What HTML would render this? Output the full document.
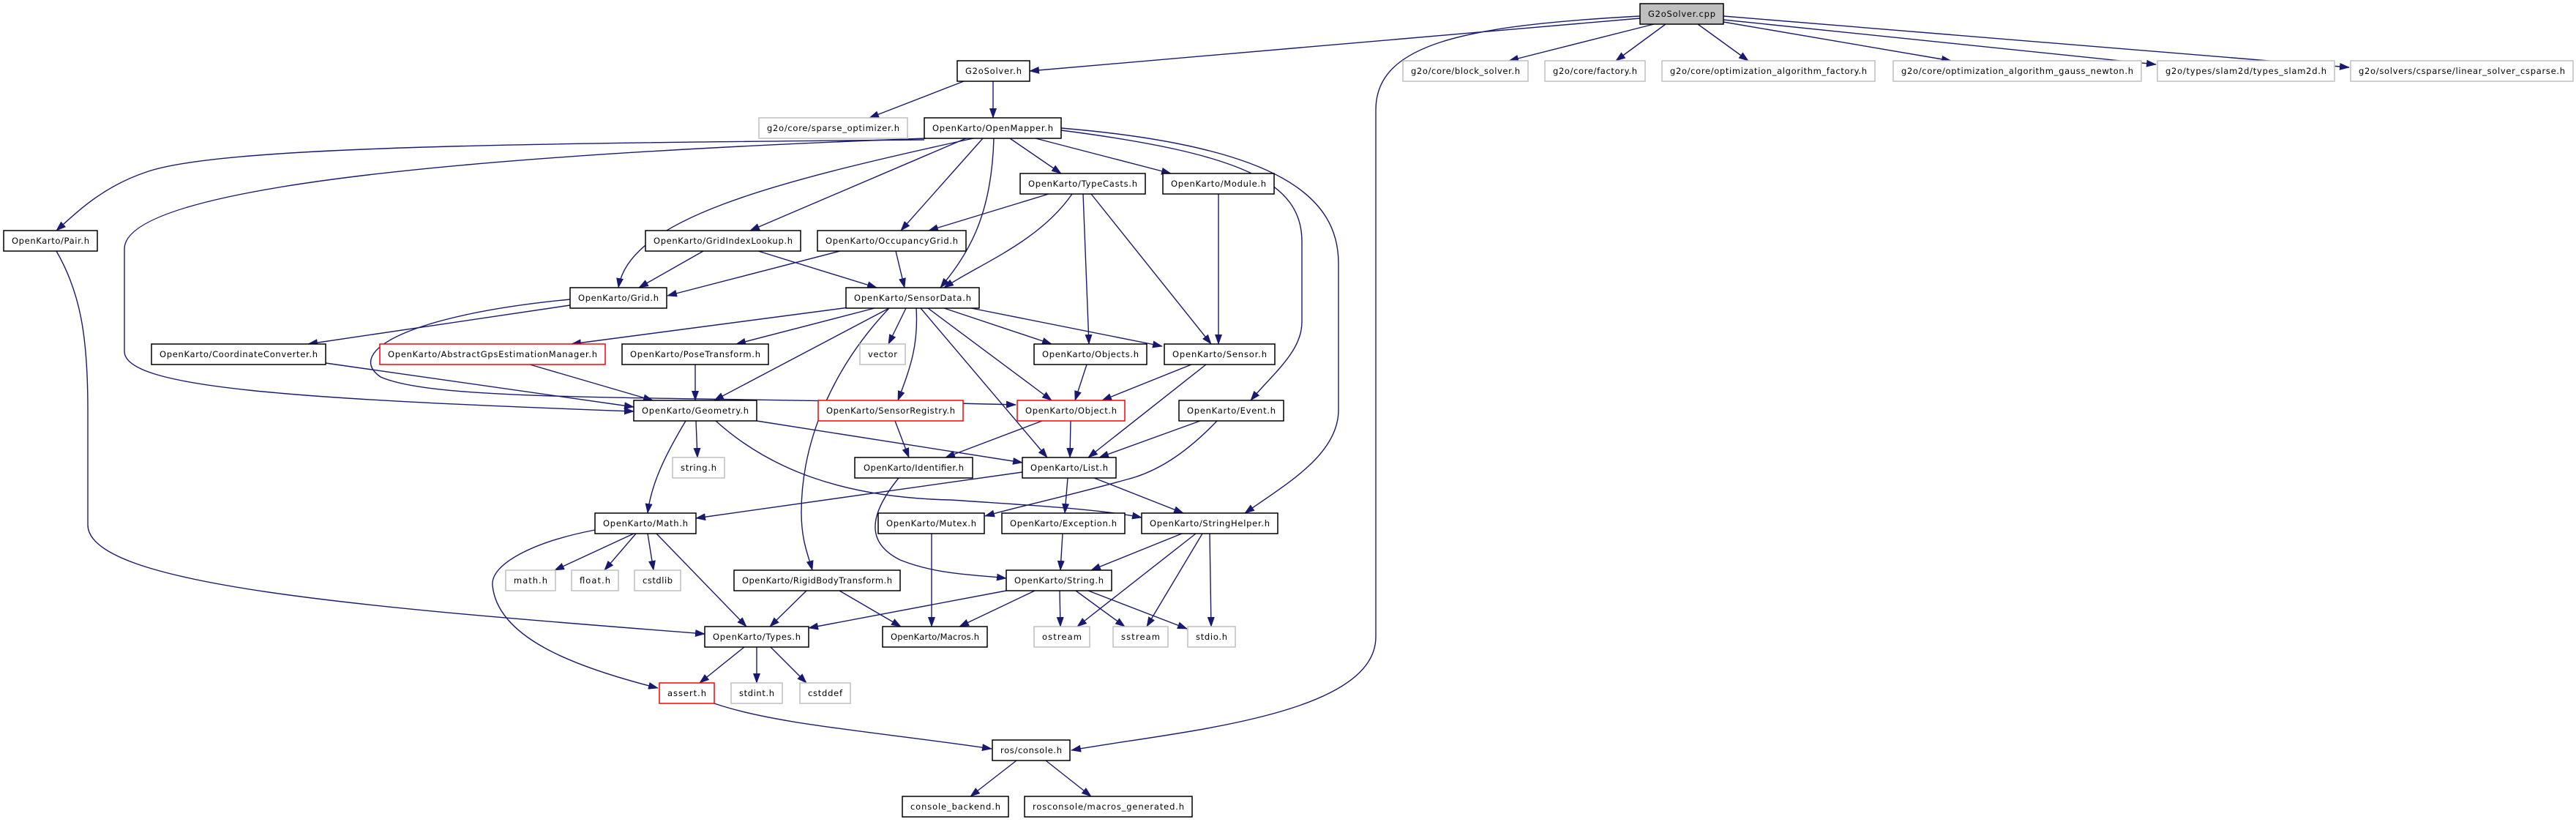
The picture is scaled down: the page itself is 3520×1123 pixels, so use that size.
<!DOCTYPE html>
<html><head><meta charset="utf-8"><style>html,body{margin:0;padding:0;background:#fff}svg{display:block}</style></head>
<body>
<svg xmlns="http://www.w3.org/2000/svg" width="3520" height="1123" viewBox="0 0 3520 1123">
<defs>
<marker id="a" markerUnits="userSpaceOnUse" markerWidth="14" markerHeight="10" refX="13" refY="5" orient="auto"><path d="M0,0 L14,5 L0,10 z" fill="#191970"/></marker>
</defs>
<rect width="3520" height="1123" fill="#fff"/>
<g fill="none" stroke="#191970" stroke-width="1.4" marker-end="url(#a)">
<path d="M2241,25 L1407,97"/>
<path d="M2260,33 L2062,83"/>
<path d="M2276,33 L2208,83"/>
<path d="M2320,33 L2389,83"/>
<path d="M2355,30 L2666,83"/>
<path d="M2355,27 L2946,88"/>
<path d="M2355,22 L3210,92"/>
<path d="M2241,22 C2000,35 1880,60 1880,150 L1880,870 C1880,980 1600,1000 1464,1025"/>
<path d="M1317,111 L1188,161"/>
<path d="M1357,111 L1357,161"/>
<path d="M1263,191 C700,196 300,200 200,235 C140,255 105,290 77,315"/>
<path d="M1265,189 C700,210 170,250 170,340 L170,480 C170,530 400,545 866,562"/>
<path d="M1320,189 L1025,315"/>
<path d="M1330,189 C1050,250 860,300 845,393"/>
<path d="M1343,189 L1231,315"/>
<path d="M1358,189 C1355,300 1320,350 1285,393"/>
<path d="M1380,189 L1450,237"/>
<path d="M1415,189 L1600,237"/>
<path d="M1450,178 C1700,210 1779,250 1779,330 L1779,440 C1779,480 1740,510 1709,547"/>
<path d="M1450,175 C1750,200 1829,270 1829,360 L1829,560 C1829,620 1760,660 1701,701"/>
<path d="M1433,265 L1269,315"/>
<path d="M1465,265 C1420,330 1340,360 1290,393"/>
<path d="M1480,265 L1488,470"/>
<path d="M1491,265 L1655,470"/>
<path d="M1665,265 L1665,470"/>
<path d="M961,343 L873,393"/>
<path d="M1036,343 L1198,393"/>
<path d="M1148,343 L912,404"/>
<path d="M1224,343 L1236,393"/>
<path d="M779,417 L421,470"/>
<path d="M779,409 C560,430 470,480 520,515 C600,550 900,540 1388,553"/>
<path d="M1160,420 L781,470"/>
<path d="M1195,421 L1006,470"/>
<path d="M1215,421 L976,547"/>
<path d="M1238,421 L1214,470"/>
<path d="M1252,421 C1255,470 1245,500 1227,547"/>
<path d="M1215,421 C1140,500 1095,600 1095,700 C1095,740 1105,760 1110,779"/>
<path d="M1258,421 L1431,625"/>
<path d="M1268,421 L1437,547"/>
<path d="M1290,421 L1437,470"/>
<path d="M1327,421 L1588,473"/>
<path d="M445,496 L866,556"/>
<path d="M724,498 L892,547"/>
<path d="M950,498 L950,547"/>
<path d="M1485,498 L1469,547"/>
<path d="M1628,498 L1506,547"/>
<path d="M1648,498 L1487,625"/>
<path d="M1223,575 L1242,625"/>
<path d="M1424,575 L1292,625"/>
<path d="M1463,575 L1462,625"/>
<path d="M1640,575 L1502,625"/>
<path d="M1663,575 C1620,620 1580,645 1540,655 C1450,680 1400,690 1346,705"/>
<path d="M951,575 L953,625"/>
<path d="M937,575 C910,620 890,660 885,701"/>
<path d="M1034,575 L1397,632"/>
<path d="M978,575 C1050,640 1150,680 1300,683 C1400,690 1500,695 1560,707"/>
<path d="M1397,645 L951,708"/>
<path d="M1459,653 L1455,701"/>
<path d="M1495,653 L1617,701"/>
<path d="M1228,653 C1190,700 1180,740 1230,765 C1280,785 1330,785 1375,790"/>
<path d="M1273,729 L1273,856"/>
<path d="M1452,729 L1449,779"/>
<path d="M1615,729 L1491,779"/>
<path d="M1634,729 L1472,856"/>
<path d="M1643,729 L1567,856"/>
<path d="M1653,729 L1655,856"/>
<path d="M866,729 L758,779"/>
<path d="M869,729 L826,779"/>
<path d="M885,729 L893,779"/>
<path d="M897,729 L1020,856"/>
<path d="M813,724 C730,740 670,770 673,800 C680,870 780,910 899,940"/>
<path d="M77,343 C110,400 120,460 120,560 L120,717 C120,800 500,830 963,866"/>
<path d="M1102,807 L1052,856"/>
<path d="M1147,807 L1231,856"/>
<path d="M1375,807 L1105,858"/>
<path d="M1414,807 L1311,856"/>
<path d="M1448,807 L1449,856"/>
<path d="M1470,807 L1537,856"/>
<path d="M1487,807 L1622,859"/>
<path d="M1017,884 L956,933"/>
<path d="M1034,884 L1034,933"/>
<path d="M1053,884 L1102,933"/>
<path d="M976,961 C1060,990 1200,1000 1355,1023"/>
<path d="M1389,1039 L1326,1088"/>
<path d="M1429,1039 L1491,1088"/>
</g>
<g font-family="'DejaVu Sans','Liberation Sans',sans-serif" font-size="11.5" text-anchor="middle">
<g stroke-width="1.5">
<rect x="2241" y="5" width="114" height="28" fill="#bfbfbf" stroke="#000"/>
<g fill="#fff" stroke="#000">
<rect x="1308" y="83" width="99" height="28"/>
<rect x="1263" y="161" width="187" height="28"/>
<rect x="1394" y="237" width="171" height="28"/>
<rect x="1589" y="237" width="152" height="28"/>
<rect x="5" y="315" width="128" height="28"/>
<rect x="882" y="315" width="212" height="28"/>
<rect x="1117" y="315" width="203" height="28"/>
<rect x="779" y="393" width="132" height="28"/>
<rect x="1156" y="393" width="182" height="28"/>
<rect x="207" y="470" width="238" height="28"/>
<rect x="850" y="470" width="200" height="28"/>
<rect x="1413" y="470" width="154" height="28"/>
<rect x="1591" y="470" width="151" height="28"/>
<rect x="866" y="547" width="168" height="28"/>
<rect x="1611" y="547" width="143" height="28"/>
<rect x="1168" y="625" width="161" height="28"/>
<rect x="1397" y="625" width="128" height="28"/>
<rect x="813" y="701" width="138" height="28"/>
<rect x="1200" y="701" width="145" height="28"/>
<rect x="1369" y="701" width="168" height="28"/>
<rect x="1560" y="701" width="186" height="28"/>
<rect x="1003" y="779" width="227" height="28"/>
<rect x="1375" y="779" width="144" height="28"/>
<rect x="963" y="856" width="142" height="28"/>
<rect x="1206" y="856" width="143" height="28"/>
<rect x="1356" y="1011" width="106" height="28"/>
<rect x="1233" y="1088" width="145" height="28"/>
<rect x="1400" y="1088" width="229" height="28"/>
</g>
<g fill="#fff" stroke="#bfbfbf">
<rect x="1917" y="83" width="171" height="28"/>
<rect x="2111" y="83" width="137" height="28"/>
<rect x="2271" y="83" width="291" height="28"/>
<rect x="2587" y="83" width="339" height="28"/>
<rect x="2948" y="83" width="242" height="28"/>
<rect x="3212" y="83" width="304" height="28"/>
<rect x="1037" y="161" width="203" height="28"/>
<rect x="1175" y="470" width="62" height="28"/>
<rect x="919" y="625" width="71" height="28"/>
<rect x="691" y="779" width="68" height="28"/>
<rect x="781" y="779" width="64" height="28"/>
<rect x="867" y="779" width="63" height="28"/>
<rect x="1413" y="856" width="76" height="28"/>
<rect x="1521" y="856" width="75" height="28"/>
<rect x="1623" y="856" width="65" height="28"/>
<rect x="999" y="933" width="70" height="28"/>
<rect x="1093" y="933" width="69" height="28"/>
</g>
<g fill="#fff" stroke="#ff0000">
<rect x="519" y="470" width="308" height="28"/>
<rect x="1118" y="547" width="198" height="28"/>
<rect x="1390" y="547" width="147" height="28"/>
<rect x="901" y="933" width="75" height="28"/>
</g>
</g>
<g fill="#000" lengthAdjust="spacingAndGlyphs">
<text x="2298" y="23" textLength="92">G2oSolver.cpp</text>
<text x="1357.5" y="101" textLength="77">G2oSolver.h</text>
<text x="1356.5" y="179" textLength="165">OpenKarto/OpenMapper.h</text>
<text x="1479.5" y="255" textLength="149">OpenKarto/TypeCasts.h</text>
<text x="1665" y="255" textLength="130">OpenKarto/Module.h</text>
<text x="69" y="333" textLength="106">OpenKarto/Pair.h</text>
<text x="988" y="333" textLength="190">OpenKarto/GridIndexLookup.h</text>
<text x="1218.5" y="333" textLength="181">OpenKarto/OccupancyGrid.h</text>
<text x="845" y="411" textLength="110">OpenKarto/Grid.h</text>
<text x="1247" y="411" textLength="160">OpenKarto/SensorData.h</text>
<text x="326" y="488" textLength="216">OpenKarto/CoordinateConverter.h</text>
<text x="950" y="488" textLength="178">OpenKarto/PoseTransform.h</text>
<text x="1490" y="488" textLength="132">OpenKarto/Objects.h</text>
<text x="1666.5" y="488" textLength="129">OpenKarto/Sensor.h</text>
<text x="950" y="565" textLength="146">OpenKarto/Geometry.h</text>
<text x="1682.5" y="565" textLength="121">OpenKarto/Event.h</text>
<text x="1248.5" y="643" textLength="137">OpenKarto/Identifier.h</text>
<text x="1461" y="643" textLength="106">OpenKarto/List.h</text>
<text x="882" y="719" textLength="116">OpenKarto/Math.h</text>
<text x="1272.5" y="719" textLength="123">OpenKarto/Mutex.h</text>
<text x="1453" y="719" textLength="146">OpenKarto/Exception.h</text>
<text x="1653" y="719" textLength="164">OpenKarto/StringHelper.h</text>
<text x="1116.5" y="797" textLength="205">OpenKarto/RigidBodyTransform.h</text>
<text x="1447" y="797" textLength="122">OpenKarto/String.h</text>
<text x="1034" y="874" textLength="120">OpenKarto/Types.h</text>
<text x="1277.5" y="874" textLength="121">OpenKarto/Macros.h</text>
<text x="1409" y="1029" textLength="84">ros/console.h</text>
<text x="1305.5" y="1106" textLength="123">console_backend.h</text>
<text x="1514.5" y="1106" textLength="207">rosconsole/macros_generated.h</text>
<text x="2002.5" y="101" textLength="149">g2o/core/block_solver.h</text>
<text x="2179.5" y="101" textLength="115">g2o/core/factory.h</text>
<text x="2416.5" y="101" textLength="269">g2o/core/optimization_algorithm_factory.h</text>
<text x="2756.5" y="101" textLength="317">g2o/core/optimization_algorithm_gauss_newton.h</text>
<text x="3069" y="101" textLength="220">g2o/types/slam2d/types_slam2d.h</text>
<text x="3364" y="101" textLength="282">g2o/solvers/csparse/linear_solver_csparse.h</text>
<text x="1138.5" y="179" textLength="181">g2o/core/sparse_optimizer.h</text>
<text x="1206" y="488" textLength="40">vector</text>
<text x="954.5" y="643" textLength="49">string.h</text>
<text x="725" y="797" textLength="46">math.h</text>
<text x="813" y="797" textLength="42">float.h</text>
<text x="898.5" y="797" textLength="41">cstdlib</text>
<text x="1451" y="874" textLength="54">ostream</text>
<text x="1558.5" y="874" textLength="53">sstream</text>
<text x="1655.5" y="874" textLength="43">stdio.h</text>
<text x="1034" y="951" textLength="48">stdint.h</text>
<text x="1127.5" y="951" textLength="47">cstddef</text>
<text x="673" y="488" textLength="286">OpenKarto/AbstractGpsEstimationManager.h</text>
<text x="1217" y="565" textLength="176">OpenKarto/SensorRegistry.h</text>
<text x="1463.5" y="565" textLength="125">OpenKarto/Object.h</text>
<text x="938.5" y="951" textLength="53">assert.h</text>
</g>
</g>
</svg>
</body></html>
